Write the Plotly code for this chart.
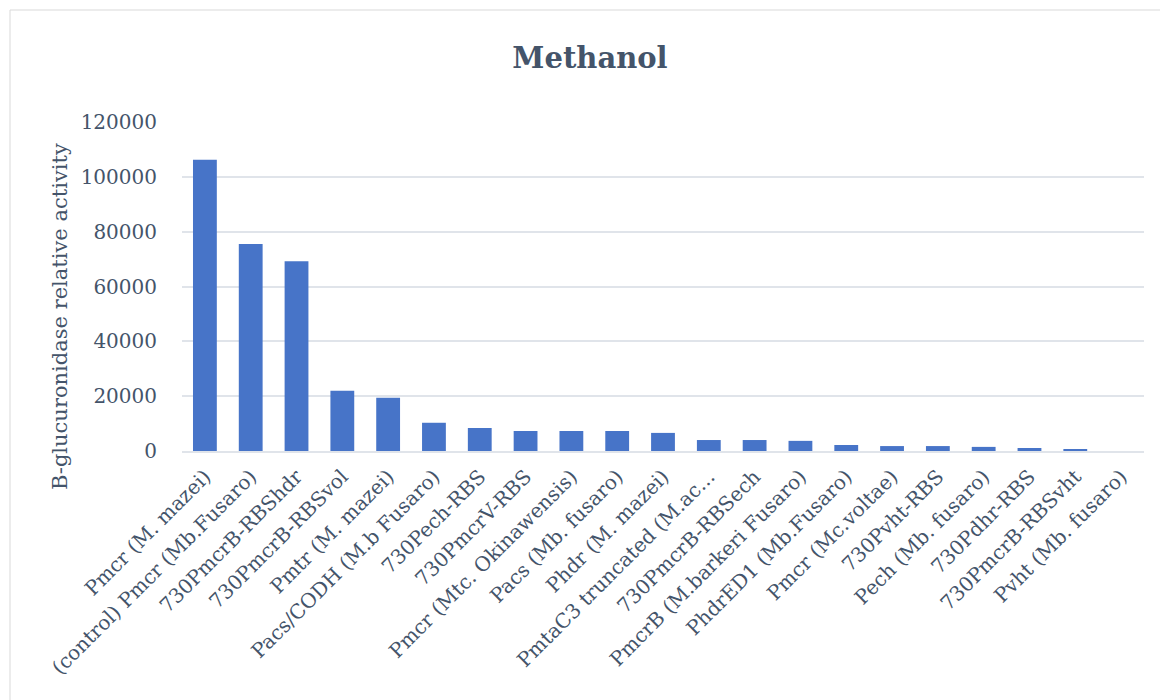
import plotly.graph_objects as go

# Promoter constructs tested in methanol
promoters = [
    "Pmcr (M. mazei)",
    "(control) Pmcr (Mb.Fusaro)",
    "730PmcrB-RBShdr",
    "730PmcrB-RBSvol",
    "Pmtr (M. mazei)",
    "Pacs/CODH (M.b Fusaro)",
    "730Pech-RBS",
    "730PmcrV-RBS",
    "Pmcr (Mtc. Okinawensis)",
    "Pacs (Mb. fusaro)",
    "Phdr (M. mazei)",
    "PmtaC3 truncated (M.ac...",
    "730PmcrB-RBSech",
    "PmcrB (M.barkeri Fusaro)",
    "PhdrED1 (Mb.Fusaro)",
    "Pmcr (Mc.voltae)",
    "730Pvht-RBS",
    "Pech (Mb. fusaro)",
    "730Pdhr-RBS",
    "730PmcrB-RBSvht",
    "Pvht (Mb. fusaro)",
]

# B-glucuronidase relative activity
activity = [
    106200, 75500, 69200, 22000, 19400, 10300, 8400, 7300, 7300, 7300,
    6600, 4000, 4000, 3700, 2200, 1800, 1800, 1500, 1100, 700, 0,
]

y_ticks = [0, 20000, 40000, 60000, 80000, 100000, 120000]

FONT = "DejaVu Serif"
SLATE = "#44546A"
GRID = "#E0E4EA"

fig = go.Figure(
    go.Bar(
        x=promoters,
        y=activity,
        marker=dict(color="#4774C8", line=dict(width=0)),
    )
)

# Plot-area geometry in pixels
L, R, T, B = 182, 16, 122, 249
pw = 1160 - L - R
ph = 700 - T - B


def px_x(v):
    return (v - L) / pw


def px_y(v):
    return (700 - B - v) / ph


# Chart frame
fig.add_shape(
    type="rect", xref="paper", yref="paper",
    x0=px_x(10), x1=px_x(1175), y0=px_y(715), y1=px_y(10),
    line=dict(color="#D9D9D9", width=1), fillcolor="rgba(0,0,0,0)",
    layer="below",
)

# Value-axis title
fig.add_annotation(
    text="B-glucuronidase relative activity",
    xref="paper", yref="paper",
    x=px_x(60), y=px_y(317),
    xanchor="center", yanchor="middle",
    textangle=-90, showarrow=False,
    font=dict(family=FONT, size=21, color=SLATE),
)

fig.update_layout(
    width=1160,
    height=700,
    margin=dict(l=L, r=R, t=T, b=B),
    paper_bgcolor="white",
    plot_bgcolor="white",
    bargap=0.48,
    showlegend=False,
    title=dict(
        text="<b>Methanol</b>",
        x=590 / 1160, xref="container", xanchor="center",
        y=1 - 58 / 700, yref="container", yanchor="middle",
        font=dict(family=FONT, size=29, color=SLATE),
    ),
    font=dict(family=FONT, color=SLATE),
)

fig.update_xaxes(
    tickangle=-45,
    tickfont=dict(family=FONT, size=20, color=SLATE),
    showgrid=False,
    showline=True,
    linecolor=GRID,
    linewidth=2,
    ticks="outside",
    ticklen=4,
    tickcolor="rgba(0,0,0,0)",
    automargin=False,
)

fig.update_yaxes(
    range=[0, 120000],
    tickvals=y_ticks,
    ticktext=[str(v) for v in y_ticks],
    tickfont=dict(family=FONT, size=20, color=SLATE),
    showgrid=True,
    gridcolor=GRID,
    gridwidth=1.5,
    zeroline=False,
    showline=False,
    ticks="outside",
    ticklen=20,
    tickcolor="rgba(0,0,0,0)",
    automargin=False,
)

fig.write_html("out.html")
